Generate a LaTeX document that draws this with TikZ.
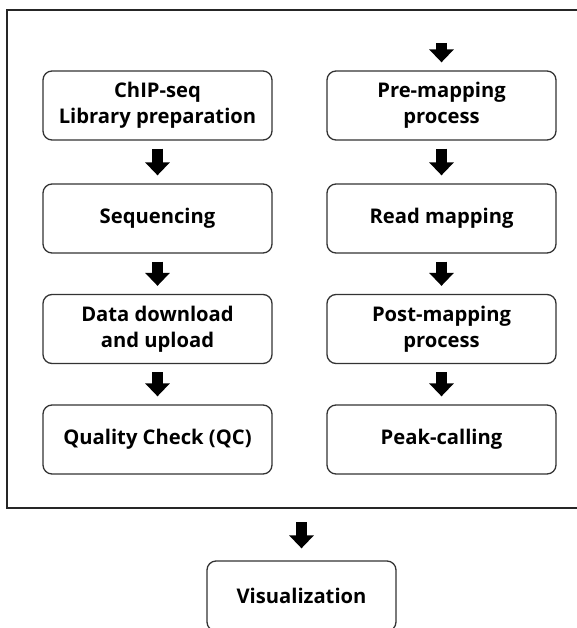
\documentclass[tikz,border=0pt]{standalone}
\usepackage{fontspec}
\setmainfont{Open Sans}
\usetikzlibrary{arrows.meta}

\tikzset{
  stage/.style={draw=black!80, line width=1.3pt, rounded corners=9pt,
    minimum width=229pt, minimum height=69pt, inner sep=0pt,
    align=center, font=\fontsize{20.2}{26}\selectfont\bfseries},
  blockarrow/.style={line width=11pt,
    -{Triangle[width=24pt,length=13pt]},
    shorten <=8pt, shorten >=8pt},
  frameline/.style={draw=black!85, line width=1.4pt}
}

\begin{document}
\begin{tikzpicture}[x=1pt,y=-1pt]
  \useasboundingbox (0,0) rectangle (576,628);

  % enclosing frame (its right side runs past the page edge)
  \draw[frameline] (7,10) rectangle (600,508);

  % wet-lab column
  \node[stage] (chip) at (157.5,105.5) {ChIP-seq\\Library preparation};
  \node[stage] (seq)  at (157.5,218.5) {Sequencing};
  \node[stage] (data) at (157.5,329)   {Data download\\and upload};
  \node[stage] (qc)   at (157.5,439.5) {Quality Check (QC)};

  % analysis column
  \node[stage] (pre)  at (441.5,105.5) {Pre-mapping\\process};
  \node[stage] (map)  at (441.5,218.5) {Read mapping};
  \node[stage] (post) at (441.5,329)   {Post-mapping\\process};
  \node[stage] (peak) at (441.5,439.5) {Peak-calling};

  % final step below the frame
  \node[stage, minimum width=189pt, minimum height=70pt] (viz) at (301.5,596) {Visualization};

  \coordinate (prein) at (441.5,43);
  \coordinate (vizin) at (301.5,522);

  \draw[blockarrow] (chip) -- (seq);
  \draw[blockarrow] (seq)  -- (data);
  \draw[blockarrow] (data) -- (qc);
  \draw[blockarrow, shorten <=0pt] (prein) -- (pre);
  \draw[blockarrow] (pre)  -- (map);
  \draw[blockarrow] (map)  -- (post);
  \draw[blockarrow] (post) -- (peak);
  \draw[blockarrow, shorten <=0pt, shorten >=12pt] (vizin) -- (viz);
\end{tikzpicture}
\end{document}
